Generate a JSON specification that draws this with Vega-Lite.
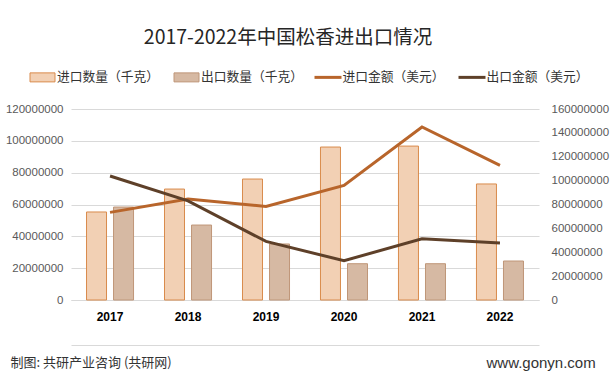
{
  "$schema": "https://vega.github.io/schema/vega-lite/v6.json",
  "width": 468,
  "height": 191,
  "autosize": "none",
  "padding": {"left": 71, "top": 109, "right": 73, "bottom": 84},
  "background": "#ffffff",
  "config": {
    "view": {"stroke": null},
    "font": "Noto Sans CJK SC"
  },
  "title": {
    "text": "2017-2022年中国松香进出口情况",
    "font": "Noto Sans CJK SC",
    "fontSize": 19.5,
    "fontWeight": "normal",
    "color": "#262626",
    "anchor": "middle",
    "dx": -17,
    "offset": 17
  },
  "datasets": {
    "bars": [
      {"year": "2017", "series": "进口数量（千克）", "value": 55300000},
      {"year": "2017", "series": "出口数量（千克）", "value": 58400000},
      {"year": "2018", "series": "进口数量（千克）", "value": 69700000},
      {"year": "2018", "series": "出口数量（千克）", "value": 47100000},
      {"year": "2019", "series": "进口数量（千克）", "value": 76000000},
      {"year": "2019", "series": "出口数量（千克）", "value": 35200000},
      {"year": "2020", "series": "进口数量（千克）", "value": 96100000},
      {"year": "2020", "series": "出口数量（千克）", "value": 22800000},
      {"year": "2021", "series": "进口数量（千克）", "value": 96700000},
      {"year": "2021", "series": "出口数量（千克）", "value": 22800000},
      {"year": "2022", "series": "进口数量（千克）", "value": 72900000},
      {"year": "2022", "series": "出口数量（千克）", "value": 24500000}
    ],
    "lines": [
      {"year": "2017", "series": "进口金额（美元）", "value": 73400000},
      {"year": "2018", "series": "进口金额（美元）", "value": 84500000},
      {"year": "2019", "series": "进口金额（美元）", "value": 78400000},
      {"year": "2020", "series": "进口金额（美元）", "value": 96000000},
      {"year": "2021", "series": "进口金额（美元）", "value": 144900000},
      {"year": "2022", "series": "进口金额（美元）", "value": 112700000},
      {"year": "2017", "series": "出口金额（美元）", "value": 103900000},
      {"year": "2018", "series": "出口金额（美元）", "value": 83000000},
      {"year": "2019", "series": "出口金额（美元）", "value": 49100000},
      {"year": "2020", "series": "出口金额（美元）", "value": 32900000},
      {"year": "2021", "series": "出口金额（美元）", "value": 51300000},
      {"year": "2022", "series": "出口金额（美元）", "value": 47700000}
    ]
  },
  "layer": [
    {
      "data": {"name": "bars"},
      "mark": {"type": "bar", "strokeWidth": 1},
      "encoding": {
        "x": {
          "field": "year",
          "type": "nominal",
          "sort": null,
          "scale": {"paddingInner": 0.397, "paddingOuter": 0.199},
          "axis": {
            "labelAngle": 0,
            "labelFont": "Liberation Sans",
            "labelFontSize": 12,
            "labelFontWeight": "bold",
            "labelColor": "#000000",
            "labelPadding": 11,
            "ticks": false,
            "domain": true,
            "domainColor": "#D9D9D9",
            "grid": false,
            "title": "制图: 共研产业咨询 (共研网)",
            "titleFont": "Noto Sans CJK SC",
            "titleFontSize": 13,
            "titleFontWeight": "normal",
            "titleColor": "#333333",
            "titleX": -61,
            "titleY": 62,
            "titleAlign": "left",
            "titleBaseline": "middle"
          }
        },
        "xOffset": {
          "field": "series",
          "scale": {"domain": ["进口数量（千克）", "出口数量（千克）"], "paddingInner": 0.26, "paddingOuter": 0}
        },
        "y": {
          "field": "value",
          "type": "quantitative",
          "scale": {"domain": [0, 120000000], "nice": false},
          "axis": {
            "values": [0, 20000000, 40000000, 60000000, 80000000, 100000000, 120000000],
            "format": "d",
            "title": null,
            "labelFont": "Liberation Sans",
            "labelFontSize": 11.5,
            "labelColor": "#595959",
            "labelPadding": 8,
            "ticks": false,
            "domain": false,
            "grid": true,
            "gridColor": "#D9D9D9",
            "gridWidth": 1
          }
        },
        "fill": {
          "field": "series",
          "type": "nominal",
          "scale": {"domain": ["进口数量（千克）", "出口数量（千克）"], "range": ["#F2D0B4", "#D6B9A3"]},
          "legend": {
            "orient": "none",
            "legendX": -39,
            "legendY": -42.5,
            "direction": "horizontal",
            "title": null,
            "symbolType": "M-1.25,-0.45H1.25V0.45H-1.25Z",
            "symbolSize": 400,
            "symbolStrokeWidth": 1,
            "symbolStrokeColor": "#CC9064",
            "symbolOpacity": 1,
            "labelFont": "Noto Sans CJK SC",
            "labelFontSize": 12.75,
            "labelColor": "#333333",
            "labelOffset": 4,
            "columnPadding": 13,
            "encode": {
              "symbols": {
                "update": {
                  "stroke": {"signal": "datum.value === '进口数量（千克）' ? '#D98B4C' : '#BF9678'"}
                }
              }
            }
          }
        },
        "stroke": {
          "field": "series",
          "type": "nominal",
          "scale": {"domain": ["进口数量（千克）", "出口数量（千克）"], "range": ["#D98B4C", "#BF9678"]},
          "legend": null
        }
      }
    },
    {
      "data": {"name": "lines"},
      "mark": {"type": "line", "strokeWidth": 3},
      "encoding": {
        "x": {
          "field": "year",
          "type": "nominal",
          "sort": null,
          "axis": {
            "orient": "bottom",
            "labels": false,
            "ticks": false,
            "grid": false,
            "domain": true,
            "domainColor": "#D9D9D9",
            "offset": 45,
            "title": "www.gonyn.com",
            "titleFont": "Liberation Sans",
            "titleFontSize": 15,
            "titleFontWeight": "normal",
            "titleColor": "#333333",
            "titleX": 415,
            "titleY": 17,
            "titleAlign": "left",
            "titleBaseline": "middle"
          }
        },
        "y": {
          "field": "value",
          "type": "quantitative",
          "scale": {"domain": [0, 160000000], "nice": false},
          "axis": {
            "orient": "right",
            "values": [0, 20000000, 40000000, 60000000, 80000000, 100000000, 120000000, 140000000, 160000000],
            "format": "d",
            "title": null,
            "labelFont": "Liberation Sans",
            "labelFontSize": 11.5,
            "labelColor": "#595959",
            "labelPadding": 12,
            "ticks": false,
            "domain": false,
            "grid": false
          }
        },
        "stroke": {
          "field": "series",
          "type": "nominal",
          "scale": {"domain": ["进口金额（美元）", "出口金额（美元）"], "range": ["#B8652B", "#5E4029"]},
          "legend": {
            "orient": "none",
            "legendX": 245.5,
            "legendY": -43.5,
            "direction": "horizontal",
            "title": null,
            "symbolType": "M-1.35,0H1.35",
            "symbolSize": 400,
            "symbolStrokeWidth": 3,
            "labelFont": "Noto Sans CJK SC",
            "labelFontSize": 12.75,
            "labelColor": "#333333",
            "labelOffset": 3,
            "columnPadding": 8
          }
        }
      }
    }
  ],
  "resolve": {
    "scale": {"y": "independent", "stroke": "independent"},
    "axis": {"x": "independent"}
  }
}
